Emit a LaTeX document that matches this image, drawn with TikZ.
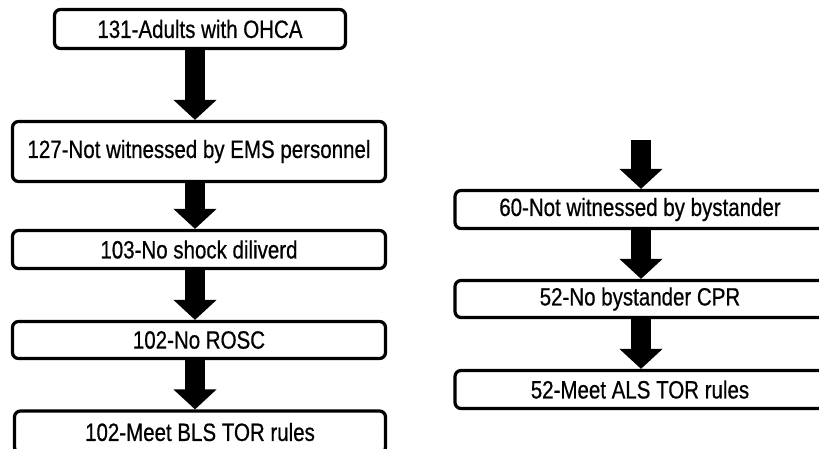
\documentclass[tikz,border=0pt]{standalone}
\usepackage{fontspec}
\setmainfont[FakeStretch=0.82,FakeBold=0.6]{Liberation Sans}
\usetikzlibrary{arrows.meta}
\tikzset{
  stepbox/.style={draw, line width=3.2pt, rounded corners=6pt, inner sep=0pt,
    minimum width=373pt, font=\fontsize{25}{28}\selectfont},
  flow/.style={line width=20pt, -{Triangle[width=42pt,length=20pt]}},
}
\begin{document}
\begin{tikzpicture}[x=1pt,y=-1pt]
\useasboundingbox (0,0) rectangle (819,449);
\clip (0,0) rectangle (819,449);
% left column
\node[stepbox, minimum width=291pt, minimum height=39pt] (adults) at (200,29) {131-Adults with OHCA};
\node[stepbox, minimum height=60pt] (notems) at (199,151.5) {127-Not witnessed by EMS personnel};
\node[stepbox, minimum height=38pt] (noshock) at (199,249.5) {103-No shock diliverd};
\node[stepbox, minimum height=37pt] (norosc) at (199,340) {102-No ROSC};
\node[stepbox, minimum width=371pt, minimum height=42pt] (meetbls) at (200,432) {102-Meet BLS TOR rules};
% right column
\node[stepbox, minimum width=370pt, minimum height=38pt] (nobyst) at (640,209.5) {60-Not witnessed by bystander};
\node[stepbox, minimum width=370pt, minimum height=37pt] (nocpr) at (640,299) {52-No bystander CPR};
\node[stepbox, minimum width=370pt, minimum height=38pt] (meetals) at (640,389.5) {52-Meet ALS TOR rules};
\coordinate (leftaxis) at (195,0);
\coordinate (feed) at (641,140);
% arrows
\foreach \a/\b in {adults/notems, notems/noshock, noshock/norosc, norosc/meetbls}
  \draw[flow] (\a.south -| leftaxis) -- (\b.north -| leftaxis);
\draw[flow] (feed) -- (nobyst.north -| feed);
\foreach \a/\b in {nobyst/nocpr, nocpr/meetals}
  \draw[flow] (\a.south -| feed) -- (\b.north -| feed);
\end{tikzpicture}
\end{document}
